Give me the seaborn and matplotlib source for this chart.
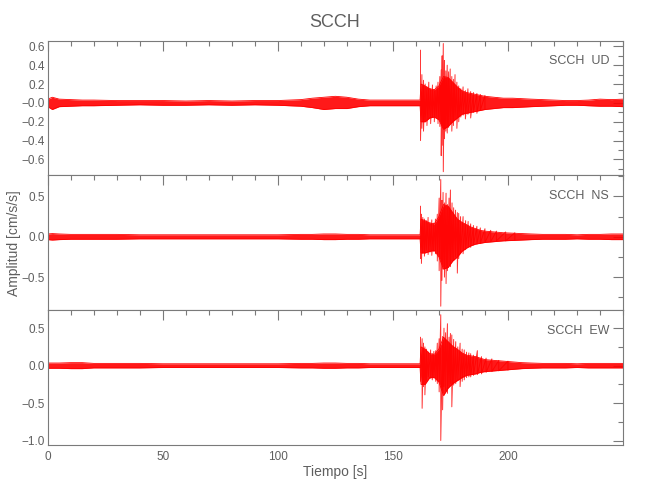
import numpy as np
import pandas as pd
import matplotlib.pyplot as plt
from matplotlib.ticker import MultipleLocator
import seaborn as sns

# envolvente del ruido / coda (tiempo compartido por las 3 componentes)
env_t = [0, 2, 5, 10, 15, 20,
         30, 40, 50, 60, 70, 80, 90, 100, 110,
         115, 120, 125, 130, 135, 140, 150,
         161.8, 162.2,
         164, 166, 168, 170, 172, 174, 176, 178, 180, 182, 184, 186, 188, 190,
         194, 198, 202, 206, 210,
         215, 220, 225, 230, 235, 240, 245, 250]

ud_hi = [0.04, 0.06, 0.04, 0.035, 0.03, 0.03,
         0.025, 0.025, 0.025, 0.02, 0.025, 0.02, 0.025, 0.025, 0.035,
         0.05, 0.06, 0.07, 0.06, 0.04, 0.03, 0.03,
         0.03, 0.2,
         0.18, 0.15, 0.14, 0.18, 0.28, 0.27, 0.22, 0.17, 0.13, 0.11, 0.1, 0.09, 0.08, 0.07,
         0.06, 0.05, 0.05, 0.045, 0.04,
         0.035, 0.03, 0.025, 0.025, 0.03, 0.04, 0.035, 0.04]
ud_lo = [-0.04, -0.07, -0.04, -0.035, -0.03, -0.03,
         -0.025, -0.02, -0.025, -0.025, -0.02, -0.025, -0.02, -0.025, -0.035,
         -0.05, -0.07, -0.06, -0.06, -0.04, -0.03, -0.03,
         -0.03, -0.2,
         -0.2, -0.16, -0.15, -0.18, -0.28, -0.25, -0.2, -0.16, -0.12, -0.11, -0.1, -0.09, -0.08, -0.07,
         -0.06, -0.05, -0.05, -0.045, -0.04,
         -0.035, -0.03, -0.025, -0.025, -0.03, -0.035, -0.035, -0.04]

ns_hi = [0.035, 0.04, 0.035, 0.03, 0.03, 0.03,
         0.03, 0.025, 0.025, 0.025, 0.025, 0.025, 0.025, 0.025, 0.03,
         0.03, 0.035, 0.035, 0.03, 0.03, 0.025, 0.025,
         0.025, 0.22,
         0.2, 0.17, 0.16, 0.25, 0.4, 0.38, 0.3, 0.22, 0.18, 0.15, 0.12, 0.1, 0.08, 0.07,
         0.06, 0.05, 0.045, 0.04, 0.035,
         0.03, 0.03, 0.03, 0.025, 0.03, 0.03, 0.035, 0.035]
ns_lo = [-0.035, -0.04, -0.035, -0.03, -0.03, -0.03,
         -0.03, -0.025, -0.025, -0.025, -0.025, -0.025, -0.025, -0.025, -0.03,
         -0.03, -0.035, -0.035, -0.03, -0.03, -0.025, -0.025,
         -0.025, -0.2,
         -0.2, -0.18, -0.17, -0.25, -0.4, -0.38, -0.3, -0.25, -0.18, -0.14, -0.11, -0.09, -0.08, -0.07,
         -0.06, -0.05, -0.045, -0.04, -0.035,
         -0.03, -0.03, -0.03, -0.025, -0.03, -0.03, -0.035, -0.035]

ew_hi = [0.035, 0.035, 0.035, 0.04, 0.04, 0.03,
         0.03, 0.03, 0.025, 0.025, 0.025, 0.025, 0.025, 0.025, 0.03,
         0.03, 0.035, 0.035, 0.03, 0.03, 0.025, 0.025,
         0.025, 0.25,
         0.22, 0.16, 0.15, 0.22, 0.38, 0.32, 0.26, 0.22, 0.17, 0.14, 0.13, 0.12, 0.1, 0.08,
         0.07, 0.06, 0.05, 0.04, 0.035,
         0.03, 0.03, 0.03, 0.025, 0.03, 0.03, 0.03, 0.03]
ew_lo = [-0.035, -0.035, -0.035, -0.04, -0.04, -0.03,
         -0.03, -0.03, -0.025, -0.025, -0.025, -0.025, -0.025, -0.025, -0.03,
         -0.03, -0.035, -0.035, -0.03, -0.03, -0.025, -0.025,
         -0.025, -0.25,
         -0.25, -0.16, -0.16, -0.22, -0.4, -0.3, -0.24, -0.2, -0.16, -0.13, -0.12, -0.11, -0.09, -0.08,
         -0.07, -0.06, -0.05, -0.04, -0.035,
         -0.03, -0.03, -0.03, -0.025, -0.03, -0.03, -0.03, -0.03]

# picos individuales (tiempo, maximo, minimo)
ud_pk_t = [162.0, 162.6, 163.3, 164.0, 164.8, 165.6, 166.4, 167.2, 168.0, 168.8, 169.6, 170.4,
           171.0, 171.4, 171.9, 172.4, 173.0, 173.6, 174.2, 174.9, 175.6, 176.3, 177.0, 177.8,
           178.6, 179.5, 180.5, 181.5, 182.6, 183.8, 185.0, 186.5, 188.0, 190.0]
ud_pk_hi = [0.56, 0.30, 0.24, 0.20, 0.17, 0.22, 0.15, 0.19, 0.14, 0.18, 0.22, 0.28,
            0.35, 0.50, 0.63, 0.45, 0.34, 0.40, 0.33, 0.36, 0.28, 0.25, 0.30, 0.22,
            0.18, 0.15, 0.17, 0.13, 0.15, 0.12, 0.11, 0.10, 0.09, 0.08]
ud_pk_lo = [-0.40, -0.27, -0.30, -0.20, -0.24, -0.17, -0.22, -0.15, -0.20, -0.16, -0.22, -0.25,
            -0.56, -0.45, -0.73, -0.38, -0.30, -0.32, -0.26, -0.22, -0.30, -0.24, -0.18, -0.27,
            -0.20, -0.15, -0.13, -0.17, -0.12, -0.16, -0.10, -0.11, -0.08, -0.07]

ns_pk_t = [162.0, 162.4, 163.0, 163.7, 164.5, 165.3, 166.1, 166.9, 167.7, 168.5, 169.3, 170.1,
           170.8, 171.3, 171.8, 172.4, 173.1, 173.7, 174.4, 175.0, 175.7, 176.4, 177.2, 178.0,
           178.6, 179.4, 180.5, 181.6, 182.7, 183.8, 185.0, 186.5, 188.0, 190.0, 192.5, 195.0,
           199.0, 203.0]
ns_pk_hi = [0.38, 0.28, 0.24, 0.22, 0.20, 0.24, 0.18, 0.21, 0.17, 0.22, 0.28, 0.48,
            0.71, 0.45, 0.55, 0.42, 0.54, 0.40, 0.48, 0.58, 0.42, 0.36, 0.33, 0.30,
            0.29, 0.25, 0.25, 0.20, 0.19, 0.16, 0.14, 0.13, 0.11, 0.10, 0.08, 0.07,
            0.06, 0.05]
ns_pk_lo = [-0.27, -0.33, -0.20, -0.24, -0.17, -0.22, -0.19, -0.23, -0.18, -0.21, -0.30, -0.42,
            -0.86, -0.54, -0.40, -0.50, -0.58, -0.42, -0.35, -0.37, -0.30, -0.29, -0.25, -0.45,
            -0.27, -0.21, -0.21, -0.16, -0.12, -0.13, -0.10, -0.09, -0.08, -0.07, -0.06, -0.05,
            -0.05, -0.04]

ew_pk_t = [162.0, 162.7, 163.3, 163.9, 164.6, 165.4, 166.4, 167.1, 167.8, 168.6, 169.3, 170.1,
           170.8, 171.6, 172.2, 172.9, 173.7, 174.4, 175.0, 175.6, 176.4, 177.3, 178.2, 179.2,
           180.1, 181.0, 182.0, 183.0, 183.8, 185.0, 186.7, 188.5, 190.5, 193.0, 196.0, 200.0]
ew_pk_hi = [0.38, 0.36, 0.30, 0.25, 0.22, 0.18, 0.21, 0.16, 0.19, 0.20, 0.30, 0.36,
            0.68, 0.39, 0.50, 0.44, 0.56, 0.38, 0.43, 0.41, 0.35, 0.32, 0.25, 0.30,
            0.22, 0.21, 0.18, 0.17, 0.16, 0.14, 0.20, 0.12, 0.10, 0.09, 0.07, 0.06]
ew_pk_lo = [-0.21, -0.57, -0.28, -0.39, -0.20, -0.15, -0.17, -0.19, -0.16, -0.21, -0.24, -0.35,
            -1.00, -0.59, -0.28, -0.33, -0.37, -0.27, -0.24, -0.55, -0.26, -0.24, -0.20, -0.28,
            -0.21, -0.19, -0.16, -0.15, -0.15, -0.13, -0.12, -0.11, -0.09, -0.08, -0.07, -0.06]

componentes = ["UD", "NS", "EW"]
ylims = [(-0.77, 0.66), (-0.91, 0.76), (-1.06, 0.74)]
ud_ticks = [-0.6, -0.4, -0.2, 0.0, 0.2, 0.4, 0.6]
ud_labels = ["\u22120.6", "\u22120.4", "\u22120.2", "\u22120.0", "0.2", "0.4", "0.6"]
ns_ticks = [-0.5, 0.0, 0.5]
ns_labels = ["\u22120.5", "0.0", "0.5"]
ew_ticks = [-1.0, -0.5, 0.0, 0.5]
ew_labels = ["\u22121.0", "\u22120.5", "0.0", "0.5"]
x_ticks = [0, 50, 100, 150, 200]

sns.set_style("white")
plt.rcParams['font.family'] = ['Liberation Sans', 'DejaVu Sans']

gris = "#7a7a7a"
texto = "#5f5f5f"
rojo = "#ff0000"

fig, axes = plt.subplots(3, 1, figsize=(6.5, 5), dpi=100, sharex=True)
fig.subplots_adjust(left=0.0734, right=0.9585, top=0.9186, bottom=0.11, hspace=0)

envs = [(ud_hi, ud_lo), (ns_hi, ns_lo), (ew_hi, ew_lo)]
picos = [(ud_pk_t, ud_pk_hi, ud_pk_lo), (ns_pk_t, ns_pk_hi, ns_pk_lo), (ew_pk_t, ew_pk_hi, ew_pk_lo)]
ticks = [(ud_ticks, ud_labels, 0.1), (ns_ticks, ns_labels, 0.25), (ew_ticks, ew_labels, 0.25)]

for ax, comp, (hi, lo), (pt, phi, plo), yl, (tk, lb, mn) in zip(axes, componentes, envs, picos, ylims, ticks):
    ax.fill_between(env_t, lo, hi, color=rojo, alpha=0.9, lw=0)
    sns.lineplot(x=env_t, y=hi, ax=ax, color=rojo, lw=0.6, estimator=None, sort=False)
    sns.lineplot(x=env_t, y=lo, ax=ax, color=rojo, lw=0.6, estimator=None, sort=False)

    # traza en zig-zag entre maximos y minimos
    zz = pd.DataFrame({
        "t": np.column_stack((pt, pt)).ravel(),
        "a": np.column_stack((phi, plo)).ravel(),
    })
    sns.lineplot(data=zz, x="t", y="a", ax=ax, color=rojo, lw=0.7, alpha=0.8,
                 estimator=None, sort=False)

    ax.set_xlim(0, 250)
    ax.set_ylim(*yl)
    ax.set_yticks(tk, lb)
    ax.yaxis.set_minor_locator(MultipleLocator(mn))
    ax.set_xticks(x_ticks)
    ax.xaxis.set_minor_locator(MultipleLocator(10))
    ax.tick_params(which="both", direction="in", top=True, right=True,
                   color=gris, labelcolor=texto, labelsize=8.5, width=0.8)
    ax.tick_params(which="major", length=7, pad=2)
    ax.tick_params(which="minor", length=3.5)
    for s in ax.spines.values():
        s.set_color(gris)
        s.set_linewidth(0.8)
    ax.set_xlabel("")
    ax.set_ylabel("")
    ax.text(0.976, 0.848, "SCCH  " + comp, transform=ax.transAxes,
            ha="right", va="center", fontsize=9, color=texto)

axes[-1].tick_params(axis="x", pad=4)

fig.text(0.5154, 0.955, "SCCH", ha="center", va="center", fontsize=13, color=texto)
fig.text(0.5154, 0.056, "Tiempo [s]", ha="center", va="center", fontsize=10, color=texto)
fig.text(0.021, 0.513, "Amplitud [cm/s/s]", ha="center", va="center", rotation=90,
         fontsize=10, color=texto)

fig.savefig("out.png", dpi=100)
